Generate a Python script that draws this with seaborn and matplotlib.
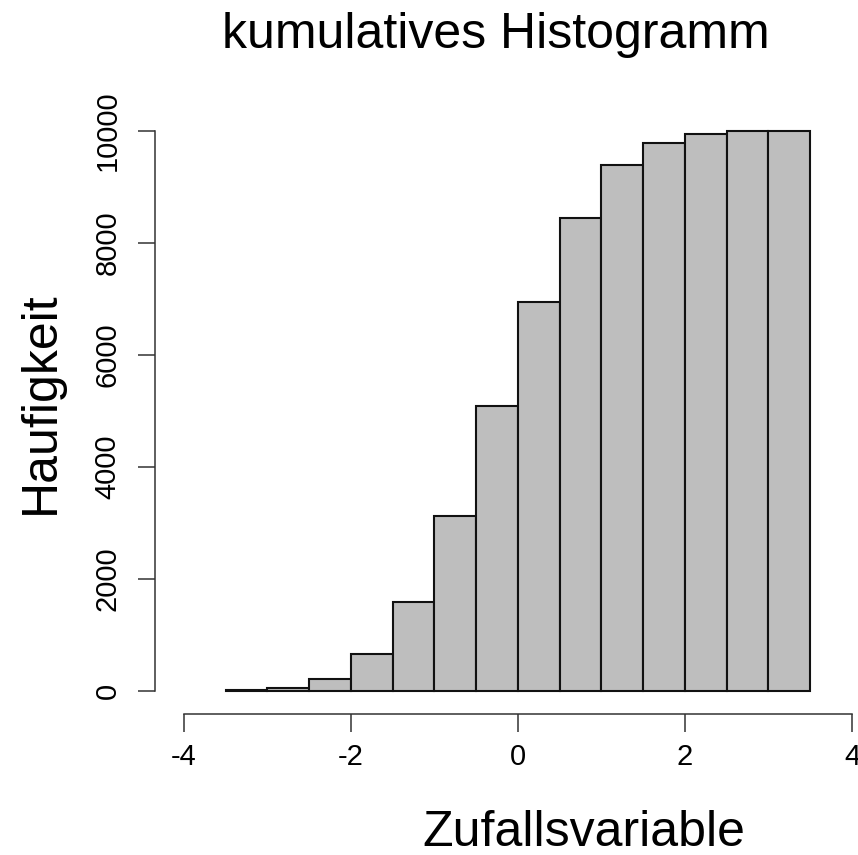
import numpy as np
import pandas as pd
import matplotlib
matplotlib.use("Agg")
import matplotlib.pyplot as plt
import seaborn as sns

# Bin edges of the histogram (width 0.5) and cumulative counts per bin
bin_edges = [-3.5, -3.0, -2.5, -2.0, -1.5, -1.0, -0.5, 0.0, 0.5, 1.0, 1.5, 2.0, 2.5, 3.0, 3.5]
cum_counts = [13, 55, 222, 660, 1595, 3125, 5090, 6940, 8450, 9385, 9780, 9945, 9995, 10000]
x_ticks = [-4, -2, 0, 2, 4]
y_ticks = [0, 2000, 4000, 6000, 8000, 10000]

title = "kumulatives Histogramm"
x_label = "Zufallsvariable"
y_label = "Haufigkeit"

sns.set_style("white")
plt.rcParams["font.family"] = ["Liberation Sans", "DejaVu Sans"]
plt.rcParams["text.color"] = "black"
plt.rcParams["axes.labelcolor"] = "black"
plt.rcParams["xtick.color"] = "black"
plt.rcParams["ytick.color"] = "black"

centers = [(a + b) / 2 for a, b in zip(bin_edges[:-1], bin_edges[1:])]
df = pd.DataFrame({"x": centers, "n": cum_counts})

fig = plt.figure(figsize=(8.58, 8.55), dpi=100)
W, H = 858, 855
# axes box in pixels: left 155, right 858, bottom 714, top 120
ax = fig.add_axes([155 / W, (H - 714) / H, (858 - 155) / W, (714 - 120) / H])

sns.histplot(data=df, x="x", weights="n", bins=bin_edges, stat="count",
             color="#BEBEBE", alpha=1.0, edgecolor="#111111", linewidth=1.5,
             ax=ax)

ax.set_xlim(-4.347, 4.072)
ax.set_ylim(-410.7, 10196)

for s in ["top", "right"]:
    ax.spines[s].set_visible(False)
ax.spines["left"].set_bounds(0, 10000)
ax.spines["bottom"].set_bounds(-4, 4)
for s in ["left", "bottom"]:
    ax.spines[s].set_color("#333333")
    ax.spines[s].set_linewidth(1.1)

ax.set_xticks(x_ticks)
ax.set_xticklabels([str(t) for t in x_ticks])
ax.set_yticks(y_ticks)
ax.set_yticklabels([str(t) for t in y_ticks], rotation=90, va="center")
ax.tick_params(axis="x", length=13, width=1.1, color="#333333", pad=8,
               labelsize=21, labelcolor="black", bottom=True)
ax.tick_params(axis="y", length=12, width=1.1, color="#333333", pad=12,
               labelsize=21, labelcolor="black", left=True)

ax.set_title("")
ax.set_xlabel(x_label, fontsize=36, color="black")
ax.xaxis.label.set_va("baseline")
ax.xaxis.set_label_coords((584 - 155) / 703, (714 - 846) / 594)

ax.set_ylabel(y_label, fontsize=36, color="black")
ax.yaxis.label.set_rotation_mode("anchor")
ax.yaxis.label.set_va("baseline")
ax.yaxis.label.set_ha("center")
ax.yaxis.set_label_coords((54 - 155) / 703, (714 - 403) / 594)

fig.text(495.5 / W, 1 - 48 / H, title, fontsize=36, ha="center",
         va="baseline", color="black")

fig.savefig("out.png", dpi=100)
